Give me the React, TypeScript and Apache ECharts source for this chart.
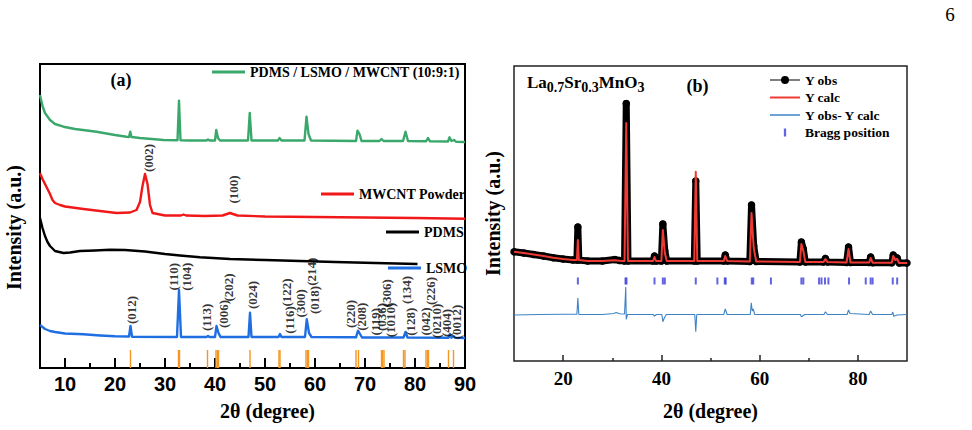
import React, { useEffect, useRef } from 'react';
import * as echarts from 'echarts';

// ---------- Panel (a): XRD patterns, [2θ (deg), intensity (a.u., offset)] ----------
const compositeCurve: [number, number][] = [
  [5, 273], [5.5, 262], [6, 255], [7, 248], [8, 244], [9.7, 241.3], [12, 239], [16.3, 236.3], [20, 233],
  [22.3, 231.3], [22.8, 231], [23.05, 236.3], [23.3, 231], [25, 230], [29.7, 228], [32.5, 227.8], [32.8, 267.3],
  [33.1, 227.8], [35, 227.5], [38.3, 227.5], [38.6, 228.5], [38.9, 227.5], [40.0, 227.5], [40.25, 238], [40.6, 230],
  [41.0, 227.5], [46.6, 227.5], [46.95, 255], [47.3, 227.5], [52.6, 227.5], [52.9, 230], [53.3, 227.5], [57.9, 227.5],
  [58.3, 251.3], [58.7, 234], [59.2, 227.5], [68.2, 227], [68.5, 237.3], [68.9, 234], [69.3, 227], [72.9, 227],
  [73.3, 229], [73.7, 227], [77.6, 227], [78.1, 236.3], [78.6, 227], [82.2, 226.7], [82.6, 230], [83.0, 226.7],
  [86.6, 226.5], [86.9, 230.7], [87.3, 227], [87.8, 228], [88.2, 226.3], [90, 226]
];
const mwcntCurve: [number, number][] = [
  [5, 194.7], [5.5, 189], [6, 184], [6.5, 179], [7, 174], [7.5, 168], [8, 165], [9, 163], [10, 161.5],
  [13.7, 159], [17, 157], [20.3, 155], [23, 155.5], [24.3, 158], [25, 166], [25.5, 182], [26, 194], [26.5, 184],
  [27, 163], [27.5, 155], [30, 152.5], [33.2, 152.5], [33.7, 153.5], [34.2, 152.5], [38, 152], [41.5, 152.5],
  [43, 155], [44.5, 152.5], [50, 151.5], [60, 151], [70, 150.5], [80, 150], [90, 149.3]
];
const pdmsCurve: [number, number][] = [
  [5, 150], [5.5, 140], [6, 132], [6.5, 126], [7, 122], [8, 117], [9.7, 115], [11, 115.5], [13, 117], [16, 117.5],
  [19, 118.3], [22, 118], [26, 116.5], [30, 114], [33, 112.5], [37, 110.7], [43, 109], [50, 108], [57, 107],
  [64, 106], [72, 105], [80.5, 104]
];
const lsmoCurve: [number, number][] = [
  [5, 43], [5.5, 41], [6, 39], [7, 37], [8, 36], [10, 34.5], [13.7, 33.7], [17, 32.5], [20, 31.7], [22.8, 31.5],
  [23.1, 42], [23.4, 31.3], [32.4, 31], [32.8, 78], [33.2, 31], [38.3, 31], [38.6, 32], [38.9, 31], [40.0, 31],
  [40.3, 42], [40.7, 35], [41.1, 31], [46.7, 31], [47.0, 55.3], [47.3, 31], [52.7, 31], [53.0, 34], [53.3, 31],
  [58.0, 31], [58.35, 48.7], [58.8, 35], [59.3, 31], [68.2, 30.7], [68.6, 37.3], [69.0, 34], [69.4, 30.5],
  [77.7, 30.5], [78.1, 36], [78.5, 30.5], [86.7, 30.3], [87.0, 34], [87.3, 30.3], [87.7, 32], [88.0, 30.3], [90, 30]
];
// reference (standard) line positions for LSMO, and their stick height
const lsmoRefTheta = [23.1, 32.7, 32.9, 38.5, 40.2, 40.5, 40.7, 47.0, 52.8, 53.0, 58.2, 58.5, 58.7, 68.2, 68.7,
  73.3, 73.5, 73.8, 77.7, 78.0, 82.2, 82.5, 82.7, 86.7, 87.7];
const lsmoRefHeight = 18;

// Miller-index annotations: label, 2θ, intensity level
const hklNames = ['(012)', '(110)', '(104)', '(113)', '(202)', '(006)', '(024)', '(122)', '(116)', '(300)', '(214)',
  '(018)', '(220)', '(208)', '(119)', '(036)', '(306)', '(1010)', '(134)', '(128)', '(042)', '(226)', '(0210)',
  '(404)', '(0012)', '(002)', '(100)'];
const hklTheta = [23.3, 31.7, 34.2, 38.3, 42.7, 41.7, 47.5, 54.2, 54.9, 57.1, 59.3, 59.8, 67.0, 69.3, 72.0, 73.3,
  74.3, 75.0, 78.3, 79.0, 82.0, 83.0, 84.3, 86.3, 88.3, 26.6, 43.6];
const hklLevel = [58, 91.3, 91.3, 50.7, 80.5, 54, 73, 75.5, 48, 64.7, 96.3, 68, 54, 51.3, 46.3, 51, 74.7, 48, 78,
  46.3, 46.5, 77, 47, 45, 46, 210, 178.5];

const ticksAMajor = [10, 20, 30, 40, 50, 60, 70, 80, 90];
const ticksAMinor = [15, 25, 35, 45, 55, 65, 75, 85];

// ---------- Panel (b): Rietveld refinement ----------
const yObs: [number, number][] = [
  [10, 109.3], [12, 108], [14, 106.5], [16, 105], [18, 103.3], [20, 102], [22, 101], [22.8, 101], [23.0, 134],
  [23.2, 101], [25, 100], [28, 100], [30.5, 101.5], [31.5, 100.5], [32.5, 100], [32.85, 257.5], [33.2, 100],
  [38.3, 100], [38.6, 105], [38.9, 100], [40.0, 100], [40.3, 137], [40.7, 110], [41.1, 100], [46.7, 100],
  [47.0, 180], [47.3, 100], [52.7, 100], [53.0, 106], [53.4, 100], [58.0, 99.5], [58.35, 156], [58.8, 115],
  [59.3, 99.5], [68.2, 99], [68.5, 119], [68.9, 112], [69.3, 99], [73.0, 99], [73.4, 102.5], [73.8, 99],
  [77.7, 98.5], [78.1, 114], [78.5, 98.5], [82.3, 98.5], [82.6, 104], [83.0, 98.3], [86.9, 98.2], [87.2, 106],
  [87.6, 102], [88.0, 103], [88.4, 98], [90, 98]
];
const yCalc: [number, number][] = [
  [10, 109.3], [12, 108], [14, 106.5], [16, 105], [18, 103.3], [20, 102], [22, 101], [22.8, 101], [23.0, 121],
  [23.2, 101], [25, 100], [28, 100], [30.5, 100.8], [31.5, 100.3], [32.5, 100], [32.85, 238], [33.2, 100],
  [38.3, 100], [38.6, 104], [38.9, 100], [40.0, 100], [40.3, 131], [40.7, 108], [41.1, 100], [46.7, 100],
  [47.0, 189.3], [47.3, 100], [52.7, 100], [53.0, 105], [53.4, 100], [58.0, 99.5], [58.35, 148], [58.8, 113],
  [59.3, 99.5], [68.2, 99], [68.5, 117], [68.9, 110], [69.3, 99], [73.0, 99], [73.4, 102], [73.8, 99],
  [77.7, 98.5], [78.1, 112], [78.5, 98.5], [82.3, 98.5], [82.6, 103], [83.0, 98.3], [86.9, 98.2], [87.2, 105],
  [87.6, 101], [88.0, 102], [88.4, 98], [90, 98]
];
const yDiff: [number, number][] = [
  [10, 46], [15, 46.5], [20, 46.7], [22.8, 46.7], [23.0, 63], [23.2, 46.5], [28, 46.5], [30.3, 47.5], [30.8, 48.5],
  [31.5, 47.3], [32.5, 47], [32.75, 74], [32.85, 41.7], [33.1, 46.5], [38.3, 46.5], [38.6, 45], [39, 46.5], [40.1, 46.5],
  [40.3, 39.3], [40.6, 43], [41, 46.5], [46.8, 46.5], [47.0, 29.3], [47.2, 46.5], [52.7, 46.5], [53.0, 52],
  [53.4, 46.5], [58.1, 46.5], [58.3, 58.3], [58.5, 50], [58.7, 52], [59, 46.5], [68.3, 46.5], [68.5, 44.3],
  [68.9, 45.5], [69.2, 46.5], [73.1, 46.5], [73.4, 49.3], [73.8, 46.5], [77.8, 46.5], [78.1, 51], [78.4, 47.5],
  [82.3, 46.5], [82.6, 50], [83, 46.5], [86.9, 46.5], [87.1, 49], [87.3, 44.7], [88, 46], [90, 46.5]
];
const braggTheta = [23.0, 32.7, 32.9, 38.6, 40.3, 40.7, 47.0, 51.4, 52.9, 53.1, 58.4, 58.7, 62.3, 68.5, 68.9,
  72.1, 72.6, 73.3, 74.0, 78.2, 81.6, 82.6, 83.0, 87.1, 88.0];
const braggLevel = 80;

const ticksBMajor = [20, 40, 60, 80];
const ticksBMinor = [30, 50, 70];

const SERIF = '"Liberation Serif", "Times New Roman", serif';
const SANS = '"Liberation Sans", Arial, sans-serif';

const legendText = (size: number) => ({ fontFamily: SERIF, fontWeight: 'bold' as const, fontSize: size, color: '#000' });

function buildOption() {
  const hklData = hklNames.map((n, i) => ({ name: n, value: [hklTheta[i], hklLevel[i]] }));
  const lineA = (name: string, data: [number, number][], color: string) => ({
    name, type: 'line', xAxisIndex: 0, yAxisIndex: 0, data, showSymbol: false, symbol: 'none',
    lineStyle: { color, width: 2.4, join: 'round' }, itemStyle: { color }, z: 3,
  });
  const legendA = (name: string, left: number, top: number) => ({
    data: [name], left, top, icon: 'rect', itemWidth: 33, itemHeight: 3, padding: 0,
    selectedMode: false, textStyle: legendText(14),
  });
  return {
    animation: false,
    backgroundColor: '#ffffff',
    grid: [
      { left: 40, top: 64, width: 425, height: 304, show: true, borderColor: '#000', borderWidth: 2, backgroundColor: 'transparent' },
      { left: 514, top: 66, width: 393, height: 295, show: true, borderColor: '#222', borderWidth: 1.5, backgroundColor: 'transparent' },
    ],
    xAxis: [
      {
        gridIndex: 0, type: 'value', min: 5, max: 90,
        axisLine: { show: false }, splitLine: { show: false },
        axisTick: { show: true, inside: true, length: 10, customValues: ticksAMajor, lineStyle: { color: '#000', width: 2 } },
        axisLabel: { customValues: ticksAMajor, margin: 6, fontFamily: SANS, fontWeight: 'bold', fontSize: 20, color: '#000' },
        name: '2θ (degree)', nameLocation: 'middle', nameGap: 33,
        nameTextStyle: { fontFamily: SERIF, fontWeight: 'bold', fontSize: 20, color: '#000', padding: [0, 0, 0, 30] },
      },
      {
        gridIndex: 0, type: 'value', min: 5, max: 90, position: 'bottom', offset: 0,
        axisLine: { show: false }, splitLine: { show: false }, axisLabel: { show: false },
        axisTick: { show: true, inside: true, length: 5, customValues: ticksAMinor, lineStyle: { color: '#000', width: 2 } },
      },
      {
        gridIndex: 1, type: 'value', min: 10, max: 90,
        axisLine: { show: false }, splitLine: { show: false },
        axisTick: { show: true, inside: true, length: 6, customValues: ticksBMajor, lineStyle: { color: '#222', width: 1.5 } },
        axisLabel: { customValues: ticksBMajor, margin: 8, fontFamily: SERIF, fontWeight: 'bold', fontSize: 19, color: '#000' },
        name: '2θ (degree)', nameLocation: 'middle', nameGap: 40,
        nameTextStyle: { fontFamily: SERIF, fontWeight: 'bold', fontSize: 20, color: '#000' },
      },
      {
        gridIndex: 1, type: 'value', min: 10, max: 90, position: 'bottom', offset: 0,
        axisLine: { show: false }, splitLine: { show: false }, axisLabel: { show: false },
        axisTick: { show: true, inside: true, length: 3, customValues: ticksBMinor, lineStyle: { color: '#222', width: 1.5 } },
      },
    ],
    yAxis: [
      {
        gridIndex: 0, type: 'value', min: 0, max: 304,
        axisLine: { show: false }, axisTick: { show: false }, axisLabel: { show: false }, splitLine: { show: false },
        name: 'Intensity (a.u.)', nameLocation: 'middle', nameRotate: 90, nameGap: 16,
        nameTextStyle: { fontFamily: SERIF, fontWeight: 'bold', fontSize: 20, color: '#000', padding: [0, 23, 0, 0] },
      },
      {
        gridIndex: 1, type: 'value', min: 0, max: 295,
        axisLine: { show: false }, axisTick: { show: false }, axisLabel: { show: false }, splitLine: { show: false },
        name: 'Intensity (a.u.)', nameLocation: 'middle', nameRotate: 90, nameGap: 11,
        nameTextStyle: { fontFamily: SERIF, fontWeight: 'bold', fontSize: 20, color: '#000' },
      },
    ],
    legend: [
      legendA('PDMS / LSMO / MWCNT (10:9:1)', 212, 65),
      legendA('MWCNT Powder', 321, 187),
      legendA('PDMS', 386, 225),
      legendA('LSMO', 388, 261),
      {
        orient: 'vertical', left: 770, top: 73, padding: 0, itemWidth: 30, itemHeight: 8, itemGap: 3.5,
        selectedMode: false, textStyle: legendText(13.5),
        data: [
          { name: 'Y obs', icon: 'path://M0,3.5h30v1h-30z M11,4a4,4 0 1,1 8,0a4,4 0 1,1 -8,0z' },
          { name: 'Y calc', icon: 'path://M0,0h30v2h-30z' },
          { name: 'Y obs- Y calc', icon: 'path://M0,0h30v1.5h-30z' },
          { name: 'Bragg position', icon: 'path://M0,0h2v7h-2z' },
        ],
      },
    ],
    graphic: [
      { type: 'text', x: 121, y: 80, style: { text: '(a)', fontFamily: SERIF, fontWeight: 'bold', fontSize: 18, fill: '#000', align: 'center', verticalAlign: 'middle', textAlign: 'center', textVerticalAlign: 'middle' } },
      { type: 'text', x: 697.5, y: 86, style: { text: '(b)', fontFamily: SERIF, fontWeight: 'bold', fontSize: 18, fill: '#000', align: 'center', verticalAlign: 'middle', textAlign: 'center', textVerticalAlign: 'middle' } },
      {
        type: 'text', x: 527, y: 70,
        style: {
          text: '{m|La}{s|0.7}{m|Sr}{s|0.3}{m|MnO}{s|3}', fill: '#000', align: 'left', verticalAlign: 'top',
          rich: {
            m: { fontFamily: SERIF, fontWeight: 'bold', fontSize: 17, lineHeight: 24, verticalAlign: 'middle', fill: '#000' },
            s: { fontFamily: SERIF, fontWeight: 'bold', fontSize: 14, lineHeight: 14, verticalAlign: 'bottom', fill: '#000' },
          },
        },
      },
      { type: 'text', x: 950, y: 14, style: { text: '6', fontFamily: SERIF, fontSize: 19, fill: '#000', align: 'center', verticalAlign: 'middle', textAlign: 'center', textVerticalAlign: 'middle' } },
    ],
    series: [
      {
        name: 'LSMO reference', type: 'bar', xAxisIndex: 0, yAxisIndex: 0, barWidth: 1.4,
        data: lsmoRefTheta.map((t) => [t, lsmoRefHeight]), itemStyle: { color: '#f5961f' }, z: 2,
      },
      lineA('PDMS / LSMO / MWCNT (10:9:1)', compositeCurve, '#3aa86b'),
      lineA('MWCNT Powder', mwcntCurve, '#f01818'),
      lineA('PDMS', pdmsCurve, '#000000'),
      lineA('LSMO', lsmoCurve, '#1f6fe3'),
      {
        name: 'hkl', type: 'scatter', xAxisIndex: 0, yAxisIndex: 0, symbolSize: 0, data: hklData, z: 5,
        label: { show: true, position: 'inside', rotate: 90, formatter: '{b}', fontFamily: SERIF, fontWeight: 'bold', fontSize: 13, color: '#000' },
      },
      {
        name: 'Y obs', type: 'line', xAxisIndex: 2, yAxisIndex: 1, data: yObs, showSymbol: true, symbol: 'circle',
        symbolSize: 7.5, itemStyle: { color: '#000' }, lineStyle: { color: '#000', width: 7, join: 'round' }, z: 2,
      },
      {
        name: 'Y calc', type: 'line', xAxisIndex: 2, yAxisIndex: 1, data: yCalc, showSymbol: false, symbol: 'none',
        itemStyle: { color: '#ee3a35' }, lineStyle: { color: '#ee3a35', width: 2, join: 'round' }, z: 3,
      },
      {
        name: 'Y obs- Y calc', type: 'line', xAxisIndex: 2, yAxisIndex: 1, data: yDiff, showSymbol: false, symbol: 'none',
        itemStyle: { color: '#3f83c6' }, lineStyle: { color: '#3f83c6', width: 1.1 }, z: 3,
      },
      {
        name: 'Bragg position', type: 'scatter', xAxisIndex: 2, yAxisIndex: 1, symbol: 'rect', symbolSize: [2, 7],
        data: braggTheta.map((t) => [t, braggLevel]), itemStyle: { color: '#3c3cdc' }, z: 3,
      },
    ],
  };
}

export default function App() {
  const ref = useRef<HTMLDivElement>(null);
  useEffect(() => {
    document.body.style.margin = '0';
    const chart = echarts.init(ref.current as HTMLDivElement, null, { renderer: 'svg' });
    chart.setOption(buildOption() as any);
    return () => chart.dispose();
  }, []);
  return <div ref={ref} style={{ width: 972, height: 430, background: '#fff' }} />;
}
